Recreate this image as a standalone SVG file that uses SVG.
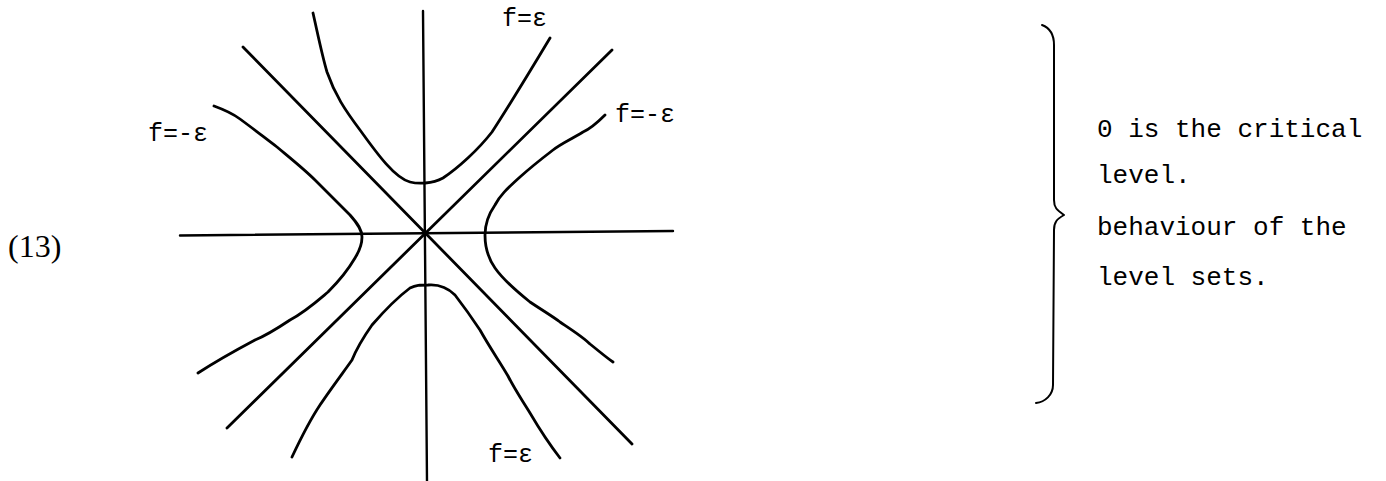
<svg xmlns="http://www.w3.org/2000/svg" width="1386" height="481" viewBox="0 0 1386 481">
<style>
.ln{fill:none;stroke:#000;stroke-linecap:round;stroke-linejoin:round}
.ax{stroke-width:2.4}
.cv{stroke-width:2.8}
.br{stroke-width:2}
.lab{font-family:"Liberation Mono","DejaVu Sans Mono",monospace;font-size:25px;fill:#000}
.txt{font-family:"Liberation Mono","DejaVu Sans Mono",monospace;font-size:26px;fill:#000}
.num{font-family:"Liberation Serif","Times New Roman",serif;font-size:32px;fill:#000}
</style>
<rect width="1386" height="481" fill="#fff"/>
<g id="number"><text class="num" x="8" y="257">(13)</text></g>
<g id="connectors">
  <g id="axes">
    <path class="ln ax" d="M180,235.5 L673,231"/>
    <path class="ln ax" d="M423,11 L427,481"/>
  </g>
  <g id="diagonals">
    <path class="ln cv" d="M243,47 L632,444"/>
    <path class="ln cv" d="M612,50 L227,428"/>
  </g>
</g>
<g id="level-plus-top">
  <path class="ln cv" d="M313,13 C318,35 322,55 327,72 C335,95 345,110 360,130 C378,155 395,178 410,182 C418,184 432,184 443,178 C458,168 478,150 492,132 C505,112 520,88 550,38"/>
</g>
<g id="level-plus-bottom">
  <path class="ln cv" d="M292,457 C300,440 310,420 320,405 C330,390 345,370 352,360 C358,345 365,335 372,325 C385,310 398,297 410,288 C416,285 420,285 428,285 C440,284 448,288 455,295 C465,308 472,318 480,330 C490,348 500,362 508,376 C515,390 522,400 530,413 C540,430 550,445 560,458"/>
</g>
<g id="level-minus-left">
  <path class="ln cv" d="M214,106 C225,110 232,113 240,119 C255,130 265,138 277,147 C295,162 305,170 315,180 C330,195 340,205 350,215 C358,224 362,230 362,237 C362,244 360,250 355,258 C348,270 340,280 328,292 C315,303 305,312 290,320 C275,330 265,336 255,340 C240,348 218,360 198,373"/>
</g>
<g id="level-minus-right">
  <path class="ln cv" d="M605,115 C598,122 592,128 583,132 C570,140 562,143 553,150 C540,160 530,168 520,177 C508,188 500,195 495,205 C488,215 485,225 485,235 C485,245 488,258 495,268 C502,278 515,290 530,302 C545,312 552,316 560,322 C575,332 583,337 590,344 C600,352 607,358 613,362"/>
</g>
<g id="labels">
  <text class="lab" x="502" y="26">f=ε</text>
  <text class="lab" x="615" y="122">f=-ε</text>
  <text class="lab" x="148" y="141">f=-ε</text>
  <text class="lab" x="488" y="462">f=ε</text>
</g>
<g id="brace">
  <path class="ln br" d="M1042,25 C1050,28 1054,35 1054,45 L1054,200 C1054,208 1057,210 1064,215 C1057,219 1054,222 1054,230 L1053,385 C1053,395 1045,402 1036,403"/>
</g>
<g id="note">
  <text class="txt" x="1097" y="137">0 is the critical</text>
  <text class="txt" x="1097" y="183">level.</text>
  <text class="txt" x="1097" y="235">behaviour of the</text>
  <text class="txt" x="1097" y="285">level sets.</text>
</g>
</svg>
